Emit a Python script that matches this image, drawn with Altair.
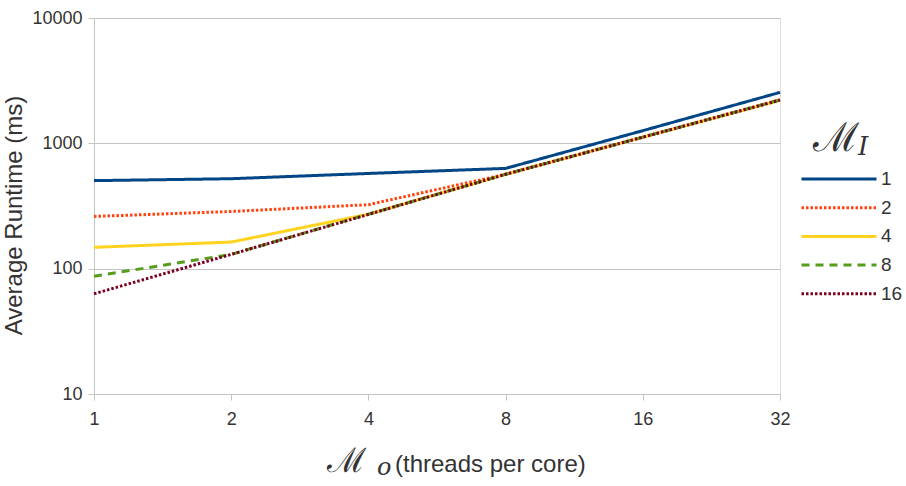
import altair as alt
import pandas as pd

# threads per core (x axis)
mo = [1, 2, 4, 8, 16, 32]
series = ["1", "2", "4", "8", "16"]
mi1 = [504, 522, 575, 631, 1262, 2550]
mi2 = [261, 286, 324, 566, 1120, 2230]
mi4 = [148, 163, 272, 566, 1120, 2200]
mi8 = [87, 130, 272, 566, 1120, 2220]
mi16 = [63, 130, 271, 566, 1120, 2210]
y_ticks = [10, 100, 1000, 10000]

colors = ["#004586", "#ff420e", "#ffd320", "#579d1c", "#7e0021"]
dashes = [[1, 0], [2.5, 2], [1, 0], [8, 6], [2.5, 2]]

rows = []
for s, vals in zip(series, [mi1, mi2, mi4, mi8, mi16]):
    for m, v in zip(mo, vals):
        rows.append({"mo": m, "mi": s, "runtime": v})
df = pd.DataFrame(rows)

W, H = 686, 376
FONT = "Liberation Sans"
GRAY = "#c4c4c4"
TXT = "#333333"

leg = alt.Legend(
    title=None, orient="none", legendX=731, legendY=147,
    symbolType="M-3,0L3,0", symbolSize=625, symbolStrokeWidth=3,
    labelFont=FONT, labelFontSize=19, labelColor=TXT,
    labelOffset=28, rowPadding=4.7, padding=0,
)

lines = alt.Chart(df).mark_line(strokeWidth=3, strokeCap="butt").encode(
    x=alt.X("mo:Q",
            scale=alt.Scale(type="log", base=2, domain=[1, 32], nice=False),
            axis=alt.Axis(values=mo, title=None, grid=False, format="d",
                          labelFont=FONT, labelFontSize=18, labelColor=TXT,
                          labelPadding=10, tickSize=6, tickColor=GRAY,
                          domainColor=GRAY, labelFlush=False)),
    y=alt.Y("runtime:Q",
            scale=alt.Scale(type="log", domain=[10, 10000], nice=False),
            axis=alt.Axis(values=y_ticks, format="d", title="Average Runtime (ms)",
                          titleFont=FONT, titleFontSize=24, titleFontWeight="normal",
                          titleColor=TXT, titleX=-68, titleY=197,
                          labelFont=FONT, labelFontSize=18, labelColor=TXT,
                          labelPadding=6, tickSize=6, tickColor=GRAY,
                          domainColor=GRAY, gridColor=GRAY)),
    color=alt.Color("mi:N", sort=series,
                    scale=alt.Scale(domain=series, range=colors), legend=leg),
    strokeDash=alt.StrokeDash("mi:N", sort=series,
                              scale=alt.Scale(domain=series, range=dashes), legend=leg),
)

def txt(t, x, y, size, font, style="normal", align="left"):
    return alt.Chart(pd.DataFrame({"t": [t]})).mark_text(
        font=font, fontSize=size, fontStyle=style, align=align,
        baseline="alphabetic", color=TXT,
    ).encode(text="t:N", x=alt.value(x), y=alt.value(y))

x_title = (
    txt("ℳ", 233, 454, 34, "DejaVu Serif")
    + txt("o", 283, 457, 24, "DejaVu Serif", style="italic")
    + txt("(threads per core)", 301, 454, 24, FONT)
)
leg_title = (
    txt("ℳ", 719, 133, 40, "DejaVu Serif")
    + txt("I", 764, 137, 26, "DejaVu Serif", style="italic")
)

chart = alt.layer(lines, x_title, leg_title).properties(
    width=W, height=H,
    autosize=alt.AutoSizeParams(type="none"),
    padding={"left": 94, "top": 18, "right": 126, "bottom": 92},
).configure_view(stroke=GRAY, strokeWidth=1).configure(background="white")

chart.save("out.html", embed_options={"renderer": "svg", "actions": False})
